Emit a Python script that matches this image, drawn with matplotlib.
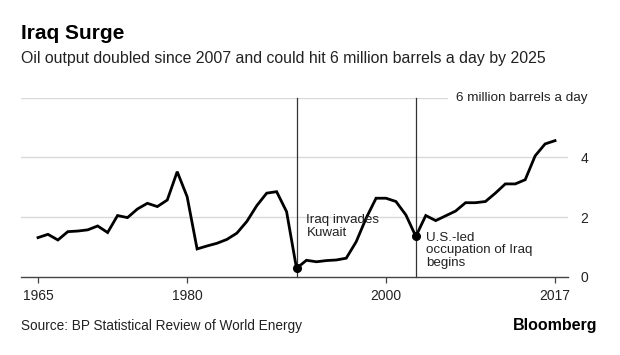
import matplotlib
matplotlib.use("Agg")
import matplotlib.pyplot as plt
import matplotlib.transforms as mtransforms

plt.rcParams['font.family'] = ['Liberation Sans', 'DejaVu Sans']

years = list(range(1965, 2018))
output = [1.31, 1.42, 1.23, 1.51, 1.53, 1.57, 1.70, 1.48, 2.05, 1.98,
          2.27, 2.46, 2.35, 2.57, 3.52, 2.68, 0.93, 1.03, 1.12, 1.25,
          1.46, 1.85, 2.38, 2.80, 2.85, 2.18, 0.28, 0.55, 0.50, 0.54,
          0.56, 0.62, 1.17, 1.96, 2.63, 2.63, 2.52, 2.07, 1.35, 2.05,
          1.88, 2.04, 2.20, 2.48, 2.48, 2.52, 2.80, 3.11, 3.11, 3.25,
          4.05, 4.45, 4.56]
event_years = [1991, 2003]
event_labels = ["Iraq invades\nKuwait", "U.S.-led\noccupation of Iraq\nbegins"]
xticks = [1965, 1980, 2000, 2017]
yticks = [0, 2, 4]
target = 6
target_label = "6 million barrels a day"

fig = plt.figure(figsize=(6.2, 3.55), dpi=100)
ax = fig.add_axes([0.0339, 0.2206, 0.8823, 0.5042])
ax.set_xlim(1963.29, 2018.31)
ax.set_ylim(0, 6)

grid_c = '#d9d9d9'
for y in yticks[1:]:
    ax.axhline(y, color=grid_c, lw=1.0, zorder=0)
ax.axhline(target, xmax=0.779, color=grid_c, lw=1.0, zorder=0)

# event vertical lines
for ey in event_years:
    ax.plot([ey, ey], [0, target], color='#333333', lw=0.9, zorder=1, clip_on=False)

ax.plot(years, output, color='black', lw=2.0, zorder=3, solid_joinstyle='miter')

for ey in event_years:
    ax.plot([ey], [output[years.index(ey)]], 'o', color='black', ms=5.5, zorder=4)

# va='baseline' on multi-line text anchors the last line's baseline
ax.text(1992.0, 1.376, event_labels[0], fontsize=9.6, color='#222222', va='baseline',
        ha='left', linespacing=1.05, zorder=5)
ax.text(2004.0, 0.369, event_labels[1], fontsize=9.6, color='#222222', va='baseline',
        ha='left', linespacing=1.05, zorder=5)

trans = mtransforms.blended_transform_factory(ax.transAxes, ax.transData)
ax.text(1 + 19 / 547, target, target_label, transform=trans, ha='right', va='center',
        fontsize=9.7, color='#222222', clip_on=False)

for s in ['top', 'left', 'right']:
    ax.spines[s].set_visible(False)
ax.spines['bottom'].set_color('#444444')
ax.spines['bottom'].set_linewidth(1.0)

ax.set_xticks(xticks)
ax.set_xticklabels([str(x) for x in xticks])
ax.tick_params(axis='x', length=4, width=0.9, color='#444444', pad=5,
               labelsize=10, labelcolor='#222222')
ax.yaxis.tick_right()
ax.set_yticks(yticks)
ax.set_yticklabels([str(y) for y in yticks])
ax.tick_params(axis='y', length=0, pad=9, labelsize=10, labelcolor='#222222')

fig.text(0.0339, 0.8893, "Iraq Surge", fontsize=15, fontweight='bold', color='black',
         va='baseline', ha='left')
fig.text(0.0334, 0.8217, "Oil output doubled since 2007 and could hit 6 million barrels a day by 2025",
         fontsize=11.4, color='#222222', va='baseline', ha='left')
fig.text(0.0334, 0.0704, "Source: BP Statistical Review of World Energy", fontsize=9.8,
         color='#222222', va='baseline', ha='left')
fig.text(0.964, 0.0704, "Bloomberg", fontsize=11.5, fontweight='bold', color='black',
         va='baseline', ha='right')

fig.savefig("out.png", dpi=100)
